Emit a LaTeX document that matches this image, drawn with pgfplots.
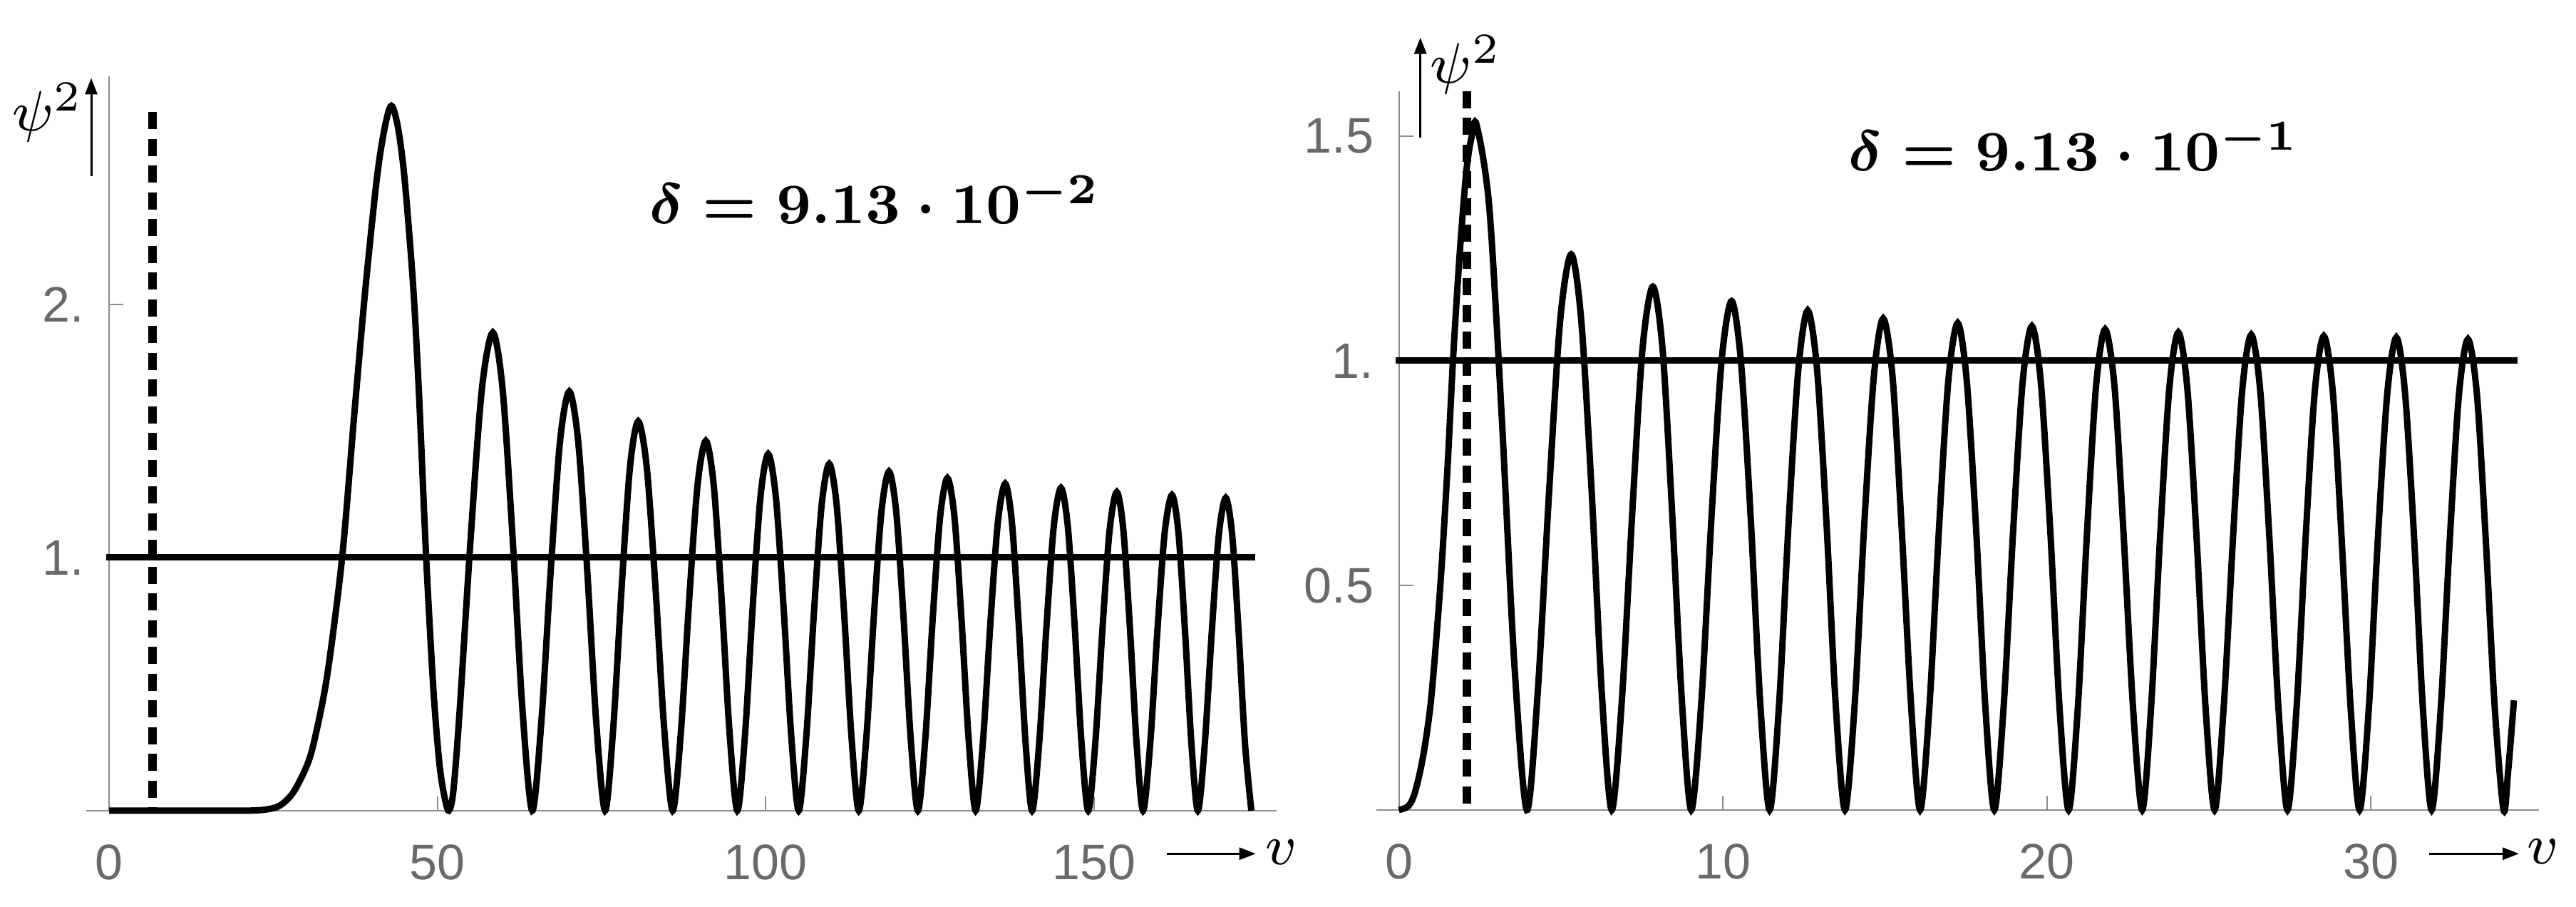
\documentclass[border=0pt]{standalone}
\usepackage{pgfplots}
\pgfplotsset{compat=1.18}
\usepackage[no-math]{fontspec}
\newfontfamily\tickfont{Liberation Sans}
\usetikzlibrary{arrows.meta}
\definecolor{labelgray}{RGB}{105,105,105}
\definecolor{axisgray}{RGB}{140,140,140}

\pgfplotsset{
  myaxis/.style={
    scale only axis, clip=false,
    axis x line=bottom, axis y line=middle,
    axis line style={draw=axisgray, line width=0.2pt, -},
    every inner y axis line/.append style={-},
    every inner x axis line/.append style={-},
    every outer x axis line/.append style={-},
    every outer y axis line/.append style={-},
    tick align=inside, major tick length=2pt,
    tick style={draw=axisgray, line width=0.2pt},
    minor tick num=0,
    hide obscured x ticks=false, hide obscured y ticks=false,
    tick label style={font=\tickfont\fontsize{7}{8}\selectfont, text=labelgray},
    xticklabel style={yshift=-1.2pt},
  },
  curve/.style={black, line width=0.9pt, smooth, no markers},
  hline/.style={black, line width=0.9pt, no markers},
  vdash/.style={black, line width=1.2pt, dash pattern=on 2.4pt off 1.35pt, no markers},
}

\begin{document}
\begin{tikzpicture}
\path[use as bounding box] (0pt,0pt) rectangle (361.4pt,127.2pt);

% ---------------- left panel ----------------
\begin{axis}[myaxis,
  at={(12.08pt,13.5pt)}, anchor=south west,
  width=166.98pt, height=102.95pt,
  xmin=-3.5, xmax=177.8, ymin=0, ymax=2.90,
  xtick={0,50,100,150}, xticklabels={0,50,100,150},
  ytick={1,2}, yticklabels={1.,2.},
]
\addplot[hline] coordinates {(-0.4,1) (174.6,1)};
\addplot[vdash] coordinates {(6.6,2.76) (6.6,0)};
\addplot[curve] coordinates {
(0,0) (10,0) (20,0) (22,0.001) (24,0.005) (26,0.02) (28,0.07) (30,0.17) (31.2,0.27) (33.2,0.53)
(35.5,1.0) (37.3,1.55) (39.0,2.05) (40.8,2.5) (42.0,2.70) (43.0,2.785) (44.0,2.70) (45.0,2.50)
(46.3,2.08) (47.2,1.65) (48.3,1.0) (49.4,0.48) (50.3,0.19) (51.05,0.06) (51.75,0) (52.45,0.08)
(53.43,0.406) (55.10,1.085) (56.78,1.664) (58.45,1.889) (59.95,1.664) (61.45,1.085) (62.95,0.406) (64.45,0)
(65.86,0.356) (67.28,0.951) (68.69,1.459) (70.10,1.656) (71.46,1.459) (72.83,0.951) (74.19,0.356) (75.55,0)
(76.81,0.331) (78.08,0.883) (79.34,1.355) (80.60,1.538) (81.91,1.355) (83.23,0.883) (84.54,0.331) (85.85,0)
(87.11,0.314) (88.38,0.839) (89.64,1.287) (90.90,1.461) (92.10,1.287) (93.30,0.839) (94.50,0.314) (95.70,0)
(96.88,0.303) (98.05,0.809) (99.23,1.241) (100.40,1.409) (101.56,1.241) (102.73,0.809) (103.89,0.303) (105.05,0)
(106.21,0.295) (107.38,0.787) (108.54,1.207) (109.70,1.370) (110.83,1.207) (111.95,0.787) (113.08,0.295) (114.20,0)
(115.35,0.288) (116.50,0.770) (117.65,1.181) (118.80,1.340) (119.90,1.181) (121.00,0.770) (122.10,0.288) (123.20,0)
(124.33,0.283) (125.45,0.755) (126.58,1.158) (127.70,1.314) (128.78,1.158) (129.85,0.755) (130.93,0.283) (132.00,0)
(133.13,0.278) (134.25,0.742) (135.38,1.138) (136.50,1.292) (137.53,1.138) (138.55,0.742) (139.58,0.278) (140.60,0)
(141.70,0.274) (142.80,0.732) (143.90,1.123) (145.00,1.275) (146.04,1.123) (147.08,0.732) (148.11,0.274) (149.15,0)
(150.24,0.271) (151.33,0.723) (152.41,1.109) (153.50,1.259) (154.50,1.109) (155.50,0.723) (156.50,0.271) (157.50,0)
(158.60,0.268) (159.70,0.716) (160.80,1.099) (161.90,1.247) (162.89,1.099) (163.88,0.716) (164.86,0.268) (165.85,0)
(166.91,0.266) (167.98,0.710) (169.04,1.089) (170.10,1.236) (171.08,1.089) (172.05,0.710) (173.03,0.266) (174.00,0)
};
\end{axis}

% ---------------- right panel ----------------
\begin{axis}[myaxis,
  at={(193.07pt,13.6pt)}, anchor=south west,
  width=163.12pt, height=100.8pt,
  xmin=-0.7, xmax=35.19, ymin=0, ymax=1.60,
  xtick={0,10,20,30}, xticklabels={0,10,20,30},
  ytick={0.5,1,1.5}, yticklabels={0.5,1.,1.5},
]
\addplot[hline] coordinates {(-0.1,1) (34.53,1)};
\addplot[vdash] coordinates {(2.09,1.60) (2.09,0)};
\addplot[curve] coordinates {
(0,0) (0.3,0.009) (0.5,0.04) (0.75,0.12) (1.0,0.25) (1.28,0.5) (1.5,0.76) (1.67,1.0) (1.87,1.23)
(2.08,1.42) (2.25,1.50) (2.40,1.525) (2.79,1.343) (3.175,0.876) (3.5625,0.328) (3.95,0)
(4.29,0.266) (4.64,0.711) (4.98,1.090) (5.32,1.237) (5.63,1.090) (5.95,0.711) (6.26,0.266) (6.57,0)
(6.89,0.251) (7.21,0.669) (7.52,1.026) (7.84,1.165) (8.14,1.026) (8.43,0.669) (8.73,0.251) (9.025,0)
(9.34,0.244) (9.65,0.651) (9.96,0.998) (10.27,1.133) (10.56,0.998) (10.86,0.651) (11.15,0.244) (11.445,0)
(11.74,0.239) (12.03,0.639) (12.33,0.980) (12.62,1.112) (12.91,0.980) (13.20,0.639) (13.48,0.239) (13.77,0)
(14.07,0.235) (14.36,0.628) (14.66,0.964) (14.95,1.094) (15.24,0.964) (15.52,0.628) (15.81,0.235) (16.09,0)
(16.38,0.233) (16.67,0.623) (16.96,0.955) (17.25,1.084) (17.53,0.955) (17.82,0.623) (18.10,0.233) (18.38,0)
(18.67,0.232) (18.96,0.619) (19.25,0.949) (19.54,1.077) (19.82,0.949) (20.11,0.619) (20.39,0.232) (20.675,0)
(20.96,0.230) (21.24,0.615) (21.52,0.943) (21.80,1.070) (22.09,0.943) (22.37,0.615) (22.66,0.230) (22.945,0)
(23.22,0.229) (23.50,0.611) (23.78,0.937) (24.06,1.063) (24.34,0.937) (24.62,0.611) (24.90,0.229) (25.18,0)
(25.46,0.228) (25.75,0.608) (26.03,0.932) (26.31,1.058) (26.59,0.932) (26.87,0.608) (27.15,0.228) (27.43,0)
(27.71,0.227) (27.99,0.606) (28.27,0.930) (28.55,1.055) (28.83,0.930) (29.10,0.606) (29.38,0.227) (29.655,0)
(29.94,0.226) (30.22,0.604) (30.51,0.927) (30.79,1.052) (31.06,0.927) (31.34,0.604) (31.61,0.226) (31.88,0)
(32.16,0.225) (32.44,0.602) (32.72,0.923) (33.00,1.048) (33.28,0.923) (33.55,0.602) (33.83,0.225) (34.10,0)
(34.24,0.085) (34.42,0.244)
};
\end{axis}

% ---------------- annotations ----------------
\node[inner sep=0pt, font=\fontsize{8.5}{10}\selectfont] at (6.75pt,111.4pt) {$\psi^2$};
\draw[line width=0.3pt, -{Triangle[length=2.3pt,width=1.7pt]}] (12.8pt,102.5pt) -- (12.8pt,116.25pt);
\draw[line width=0.3pt, -{Triangle[length=2.3pt,width=1.7pt]}] (163.73pt,7.47pt) -- (176.17pt,7.47pt);
\node[inner sep=0pt, font=\fontsize{8.5}{10}\selectfont] at (179.8pt,7.7pt) {$v$};
\node[anchor=base, inner sep=0pt, font=\fontsize{8.1}{10}\selectfont\boldmath] at (122.76pt,95.8pt) {$\delta = 9.13\cdot 10^{-2}$};

\node[inner sep=0pt, font=\fontsize{8.5}{10}\selectfont] at (205.7pt,118.1pt) {$\psi^2$};
\draw[line width=0.3pt, -{Triangle[length=2.3pt,width=1.7pt]}] (199.27pt,107.9pt) -- (199.27pt,121.93pt);
\draw[line width=0.3pt, -{Triangle[length=2.3pt,width=1.7pt]}] (340.8pt,7.47pt) -- (353.4pt,7.47pt);
\node[inner sep=0pt, font=\fontsize{8.5}{10}\selectfont] at (356.8pt,7.75pt) {$v$};
\node[anchor=base, inner sep=0pt, font=\fontsize{8.1}{10}\selectfont\boldmath] at (291.0pt,103.27pt) {$\delta = 9.13\cdot 10^{-1}$};
\end{tikzpicture}
\end{document}
